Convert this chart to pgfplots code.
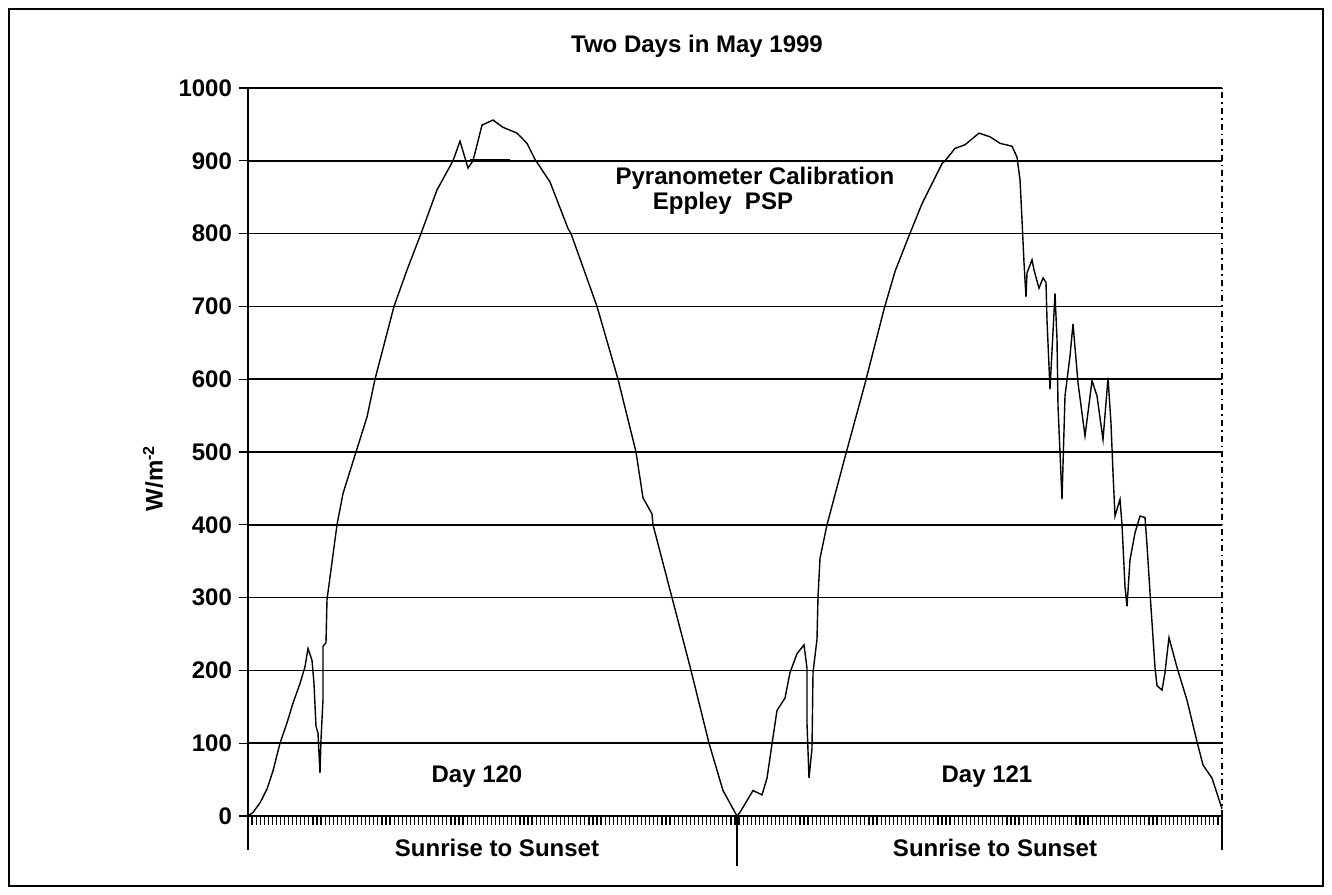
\documentclass[border=0pt]{standalone}
\usepackage{pgfplots}
\pgfplotsset{compat=1.18}
\usepackage{fontspec}
\setmainfont{Liberation Sans}
\begin{document}
\begin{tikzpicture}[font=\bfseries\fontsize{12}{14}\selectfont]
\useasboundingbox (-124pt,-39pt) rectangle (542pt,408pt);
\draw[line width=1pt] (-119.5pt,-35pt) rectangle (537.5pt,403.5pt);
\begin{axis}[
  scale only axis, width=487pt, height=364pt,
  xmin=0, xmax=974, ymin=0, ymax=1000,
  axis x line=bottom, axis y line=left,
  axis line style={-, line width=0.8pt},
  ytick={0,100,...,1000}, ymajorgrids,
  grid style={black, line width=0.8pt},
  xtick={0,4.0583,...,974}, xticklabels={},
  tick align=outside, major tick length=4.5pt,
  tick style={black, line width=0.6pt},
  extra x ticks={0,974}, extra x tick labels={},
  extra x tick style={major tick length=17pt, tick style={line width=0.8pt}},
  /pgf/number format/assume math mode=true,
  /pgf/number format/1000 sep={},
  yticklabel style={font=\bfseries\fontsize{12}{14}\selectfont},
  title={Two Days in May 1999},
  title style={at={(axis description cs:0.461,1.041)}, anchor=center, font=\bfseries\fontsize{12}{14}\selectfont},
  ylabel={W/m\textsuperscript{-2}},
  ylabel style={at={(axis description cs:-0.0975,0.464)}, anchor=center, font=\bfseries\fontsize{12}{14}\selectfont},
  clip=false,
]
% Day 120
\addplot[black, line width=0.7pt] coordinates {
(0,0) (5,5) (12,18) (19,37) (25,62) (32,100) (39,128) (45,155) (52,182) (57,205)
(60,230) (64,214) (66,182) (68,123) (70,114) (72,59) (73,105) (75,160) (75,233) (78,238)
(79,297) (89,400) (95,443) (108,500) (119,548) (127,600) (146,700) (159,750) (173,800)
(189,860) (205,900) (212,927) (220,890) (225,900) (234,949) (245,956) (255,946) (269,938)
(279,924) (287,902) (302,871) (320,807) (323,800) (349,700) (370,600) (388,500) (395,437)
(404,415) (405,400) (424,300) (443,200) (461,100) (475,35) (489,0)
};
\addplot[black, line width=1.3pt] coordinates {(222,900) (262,900)};
% Day 121
\addplot[black, line width=0.7pt] coordinates {
(489,0) (492,5) (505,35) (514,29) (519,52) (524,99) (529,145) (537,162) (542,197) (549,223)
(556,235) (559,203) (559,127) (561,52) (564,93) (565,197) (569,243) (570,301) (572,354)
(579,400) (597,493) (617,594) (636,696) (647,748) (661,797) (674,841) (694,896) (697,900)
(707,917) (717,922) (731,938) (742,933) (752,924) (764,920) (769,905) (772,874) (774,819)
(776,760) (778,713) (779,746) (784,764) (786,750) (791,725) (795,739) (798,733) (799,681)
(802,586) (807,718) (809,655) (810,563) (814,435) (817,577) (822,632) (825,676) (830,595)
(837,522) (844,598) (849,577) (855,517) (860,602) (863,539) (865,471) (867,412) (872,435)
(874,400) (877,315) (879,288) (882,352) (887,389) (892,412) (897,410) (899,372) (902,307)
(905,245) (907,204) (909,179) (914,173) (917,197) (919,222) (921,245) (929,204) (939,159)
(949,102) (955,70) (964,52) (974,10)
};
\draw[black, line width=0.8pt, dash dot] (axis cs:974,0) -- (axis cs:974,1000);
\draw[black, line width=0.8pt] (axis cs:489,0) -- ++(0,-25pt);
\node at (axis cs:507,876) {Pyranometer Calibration};
\node at (axis cs:475,842) {Eppley\ \ PSP};
\node at (axis cs:229,54) {Day 120};
\node at (axis cs:739,54) {Day 121};
\node at (axis cs:249,-44) {Sunrise to Sunset};
\node at (axis cs:747,-44) {Sunrise to Sunset};
\end{axis}
\end{tikzpicture}
\end{document}
